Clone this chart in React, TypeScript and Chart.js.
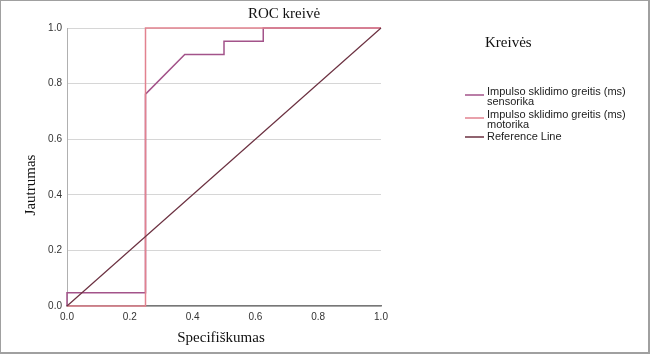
import React, { useEffect, useRef } from "react";
import { Chart, registerables } from "chart.js";

Chart.register(...registerables);

const chartTitle = "ROC kreivė";
const xAxisTitle = "Specifiškumas";
const yAxisTitle = "Jautrumas";
const legendTitle = "Kreivės";

const tickValues = [0, 0.2, 0.4, 0.6, 0.8, 1.0];

const sensorikaX = [0, 0, 0.25, 0.25, 0.375, 0.5, 0.5, 0.625, 0.625, 1];
const sensorikaY = [0, 0.048, 0.048, 0.762, 0.905, 0.905, 0.952, 0.952, 1, 1];

const motorikaX = [0, 0.25, 0.25, 1];
const motorikaY = [0, 0, 1, 1];

const referenceX = [0, 1];
const referenceY = [0, 1];

const seriesLabels = [
  ["Impulso sklidimo greitis (ms)", "sensorika"],
  ["Impulso sklidimo greitis (ms)", "motorika"],
  ["Reference Line"],
];
const seriesColors = ["#a3538a", "#e2828f", "#6b3040"];

const toPoints = (xs: number[], ys: number[]) => xs.map((x, i) => ({ x, y: ys[i] }));

const textPlugin = {
  id: "texts",
  afterDraw(chart: any) {
    const ctx = chart.ctx as CanvasRenderingContext2D;
    ctx.save();
    ctx.fillStyle = "#111";
    ctx.font = '15px "Liberation Serif", "Times New Roman", serif';
    ctx.textAlign = "center";
    ctx.textBaseline = "middle";
    ctx.fillText(chartTitle, 283, 13);
    ctx.fillText(xAxisTitle, 220, 337);
    ctx.save();
    ctx.translate(30, 184);
    ctx.rotate(-Math.PI / 2);
    ctx.fillText(yAxisTitle, 0, 0);
    ctx.restore();
    ctx.textAlign = "left";
    ctx.fillText(legendTitle, 484, 42);

    // legend
    const sampleY = [94, 117, 136];
    const textY = [90.5, 114, 136];
    ctx.font = '11px "Liberation Sans", Arial, sans-serif';
    ctx.fillStyle = "#222";
    seriesLabels.forEach((lines, i) => {
      ctx.strokeStyle = seriesColors[i];
      ctx.lineWidth = 1.5;
      ctx.beginPath();
      ctx.moveTo(464, sampleY[i]);
      ctx.lineTo(483, sampleY[i]);
      ctx.stroke();
      lines.forEach((t, j) => {
        ctx.fillText(t, 486, textY[i] + j * 10);
      });
    });
    ctx.restore();
  },
};

export default function App() {
  const ref = useRef<HTMLCanvasElement | null>(null);
  useEffect(() => {
    if (!ref.current) return;
    const tickFont = { family: '"Liberation Sans", Arial, sans-serif', size: 10 };
    const chart = new Chart(ref.current, {
      type: "line",
      data: {
        datasets: [
          {
            label: seriesLabels[0].join(" "),
            data: toPoints(sensorikaX, sensorikaY),
            borderColor: seriesColors[0],
            borderWidth: 1.5,
            pointRadius: 0,
            tension: 0,
            order: 3,
            clip: 5,
          },
          {
            label: seriesLabels[1].join(" "),
            data: toPoints(motorikaX, motorikaY),
            borderColor: seriesColors[1],
            borderWidth: 1.5,
            pointRadius: 0,
            tension: 0,
            order: 2,
            clip: 5,
          },
          {
            label: seriesLabels[2].join(" "),
            data: toPoints(referenceX, referenceY),
            borderColor: seriesColors[2],
            borderWidth: 1.2,
            pointRadius: 0,
            tension: 0,
            order: 1,
            clip: 5,
          },
        ] as any,
      },
      options: {
        animation: false,
        responsive: false,
        maintainAspectRatio: false,
        layout: { padding: { left: 0, top: 27, right: 267, bottom: 0 } },
        plugins: {
          legend: { display: false },
          title: { display: false },
          tooltip: { enabled: false },
        },
        scales: {
          x: {
            type: "linear",
            min: 0,
            max: 1,
            afterFit: (s: any) => {
              s.height = 46;
            },
            afterBuildTicks: (s: any) => {
              s.ticks = tickValues.map((v) => ({ value: v }));
            },
            grid: { display: false, drawTicks: false },
            border: { display: true, color: "#777", width: 1.5 },
            ticks: {
              font: tickFont,
              color: "#333",
              padding: 5,
              maxRotation: 0,
              callback: (v: any) => Number(v).toFixed(1),
            },
          },
          y: {
            type: "linear",
            min: 0,
            max: 1,
            afterFit: (s: any) => {
              s.width = 66;
            },
            afterBuildTicks: (s: any) => {
              s.ticks = tickValues.map((v) => ({ value: v }));
            },
            grid: { color: "#d6d6d6", drawTicks: false, lineWidth: 1 },
            border: { display: true, color: "#b0b0b0", width: 1 },
            ticks: {
              font: tickFont,
              color: "#333",
              padding: 5,
              callback: (v: any) => Number(v).toFixed(1),
            },
          },
        },
      },
      plugins: [textPlugin],
    } as any);
    return () => chart.destroy();
  }, []);
  return (
    <div
      style={{
        position: "fixed",
        left: 0,
        top: 0,
        width: 650,
        height: 354,
        boxSizing: "border-box",
        borderLeft: "1px solid #a0a0a0",
        borderTop: "1px solid #a0a0a0",
        borderRight: "2px solid #a0a0a0",
        borderBottom: "2px solid #a0a0a0",
        background: "#fff",
      }}
    >
      <canvas ref={ref} width={647} height={351} style={{ display: "block" }} />
    </div>
  );
}
